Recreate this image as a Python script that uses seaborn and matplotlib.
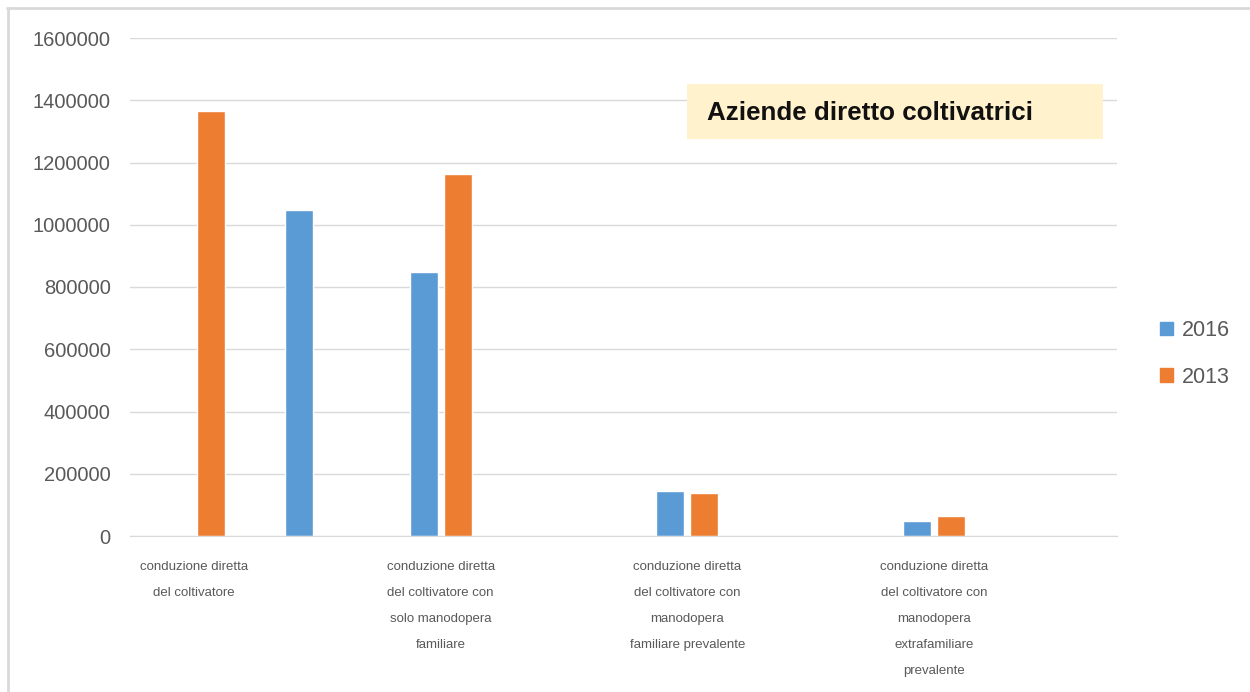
import matplotlib
matplotlib.use("Agg")
import matplotlib.pyplot as plt
from matplotlib.patches import Rectangle
from matplotlib.lines import Line2D
import pandas as pd
import seaborn as sns


categories = [
    "conduzione diretta\ndel coltivatore",
    "conduzione diretta\ndel coltivatore con\nsolo manodopera\nfamiliare",
    "conduzione diretta\ndel coltivatore con\nmanodopera\nfamiliare prevalente",
    "conduzione diretta\ndel coltivatore con\nmanodopera\nextrafamiliare\nprevalente",
]
years = ["2016", "2013"]
values_2016 = [1048000, 848000, 145000, 48000]
values_2013 = [1366000, 1163000, 138000, 64000]
yticks = [0, 200000, 400000, 600000, 800000, 1000000, 1200000, 1400000, 1600000]
title = "Aziende diretto coltivatrici"

colors = {"2016": "#5B9BD5", "2013": "#ED7D31"}

df = pd.DataFrame({
    "categoria": categories * 2,
    "anno": ["2016"] * 4 + ["2013"] * 4,
    "valore": values_2016 + values_2013,
})

sns.set_style("white")
plt.rcParams["font.family"] = ["Liberation Sans", "DejaVu Sans"]

fig = plt.figure(figsize=(12.5, 6.92), dpi=100)
ax = fig.add_axes([130 / 1250, 1 - 536 / 692, (1117 - 130) / 1250, (536 - 38) / 692])

sns.barplot(
    data=df,
    x="categoria",
    y="valore",
    hue="anno",
    hue_order=years,
    order=categories,
    palette=colors,
    width=0.276,
    gap=0.18,
    saturation=1,
    legend=False,
    ax=ax,
)

# the 2016 bar of the first group sits half a category to the right
first_blue = ax.containers[0][0]
first_blue.set_x(first_blue.get_x() + 0.495)

ax.set_ylim(0, 1600000)
ax.set_xlim(-0.259, 3.742)
ax.set_yticks(yticks)
ax.set_yticklabels([str(v) for v in yticks])
ax.yaxis.grid(True, color="#D9D9D9", linewidth=1)
ax.set_axisbelow(True)
for side in ["left", "right", "top"]:
    ax.spines[side].set_visible(False)
ax.spines["bottom"].set_color("#D9D9D9")
ax.tick_params(axis="y", length=0, pad=14, labelsize=14.5, labelcolor="#595959")
ax.tick_params(axis="x", length=0, pad=18)
ax.set_xticks(range(len(categories)))
ax.set_xticklabels(categories, fontsize=9.5, color="#595959",
                   linespacing=2.55, va="top")
ax.set_xlabel("")
ax.set_ylabel("")

# legend on the right
handles = [Rectangle((0, 0), 1, 1, color=colors[y]) for y in years]
fig.legend(handles, years, loc="center left",
           bbox_to_anchor=(1141 / 1250, 1 - 354 / 692),
           frameon=False, fontsize=15.5, labelcolor="#595959",
           handlelength=0.6, handleheight=0.6, handletextpad=0.4,
           labelspacing=1.2)

# title box
fig.patches.append(Rectangle((687 / 1250, 1 - 139 / 692), (1103 - 687) / 1250,
                             (139 - 84) / 692, transform=fig.transFigure,
                             facecolor="#FFF2CC", edgecolor="none", zorder=3))
fig.text(707 / 1250, 1 - 113 / 692, title, fontsize=18.7, fontweight="bold",
         color="#111111", va="center", ha="left", zorder=4)

# outer chart frame (top and left edges only)
fig.add_artist(Line2D([7 / 1250, 1], [1 - 8 / 692, 1 - 8 / 692],
                      transform=fig.transFigure, color="#D9D9D9", linewidth=2))
fig.add_artist(Line2D([8 / 1250, 8 / 1250], [0, 1 - 8 / 692],
                      transform=fig.transFigure, color="#D9D9D9", linewidth=2))

plt.savefig("out.png", dpi=100)
